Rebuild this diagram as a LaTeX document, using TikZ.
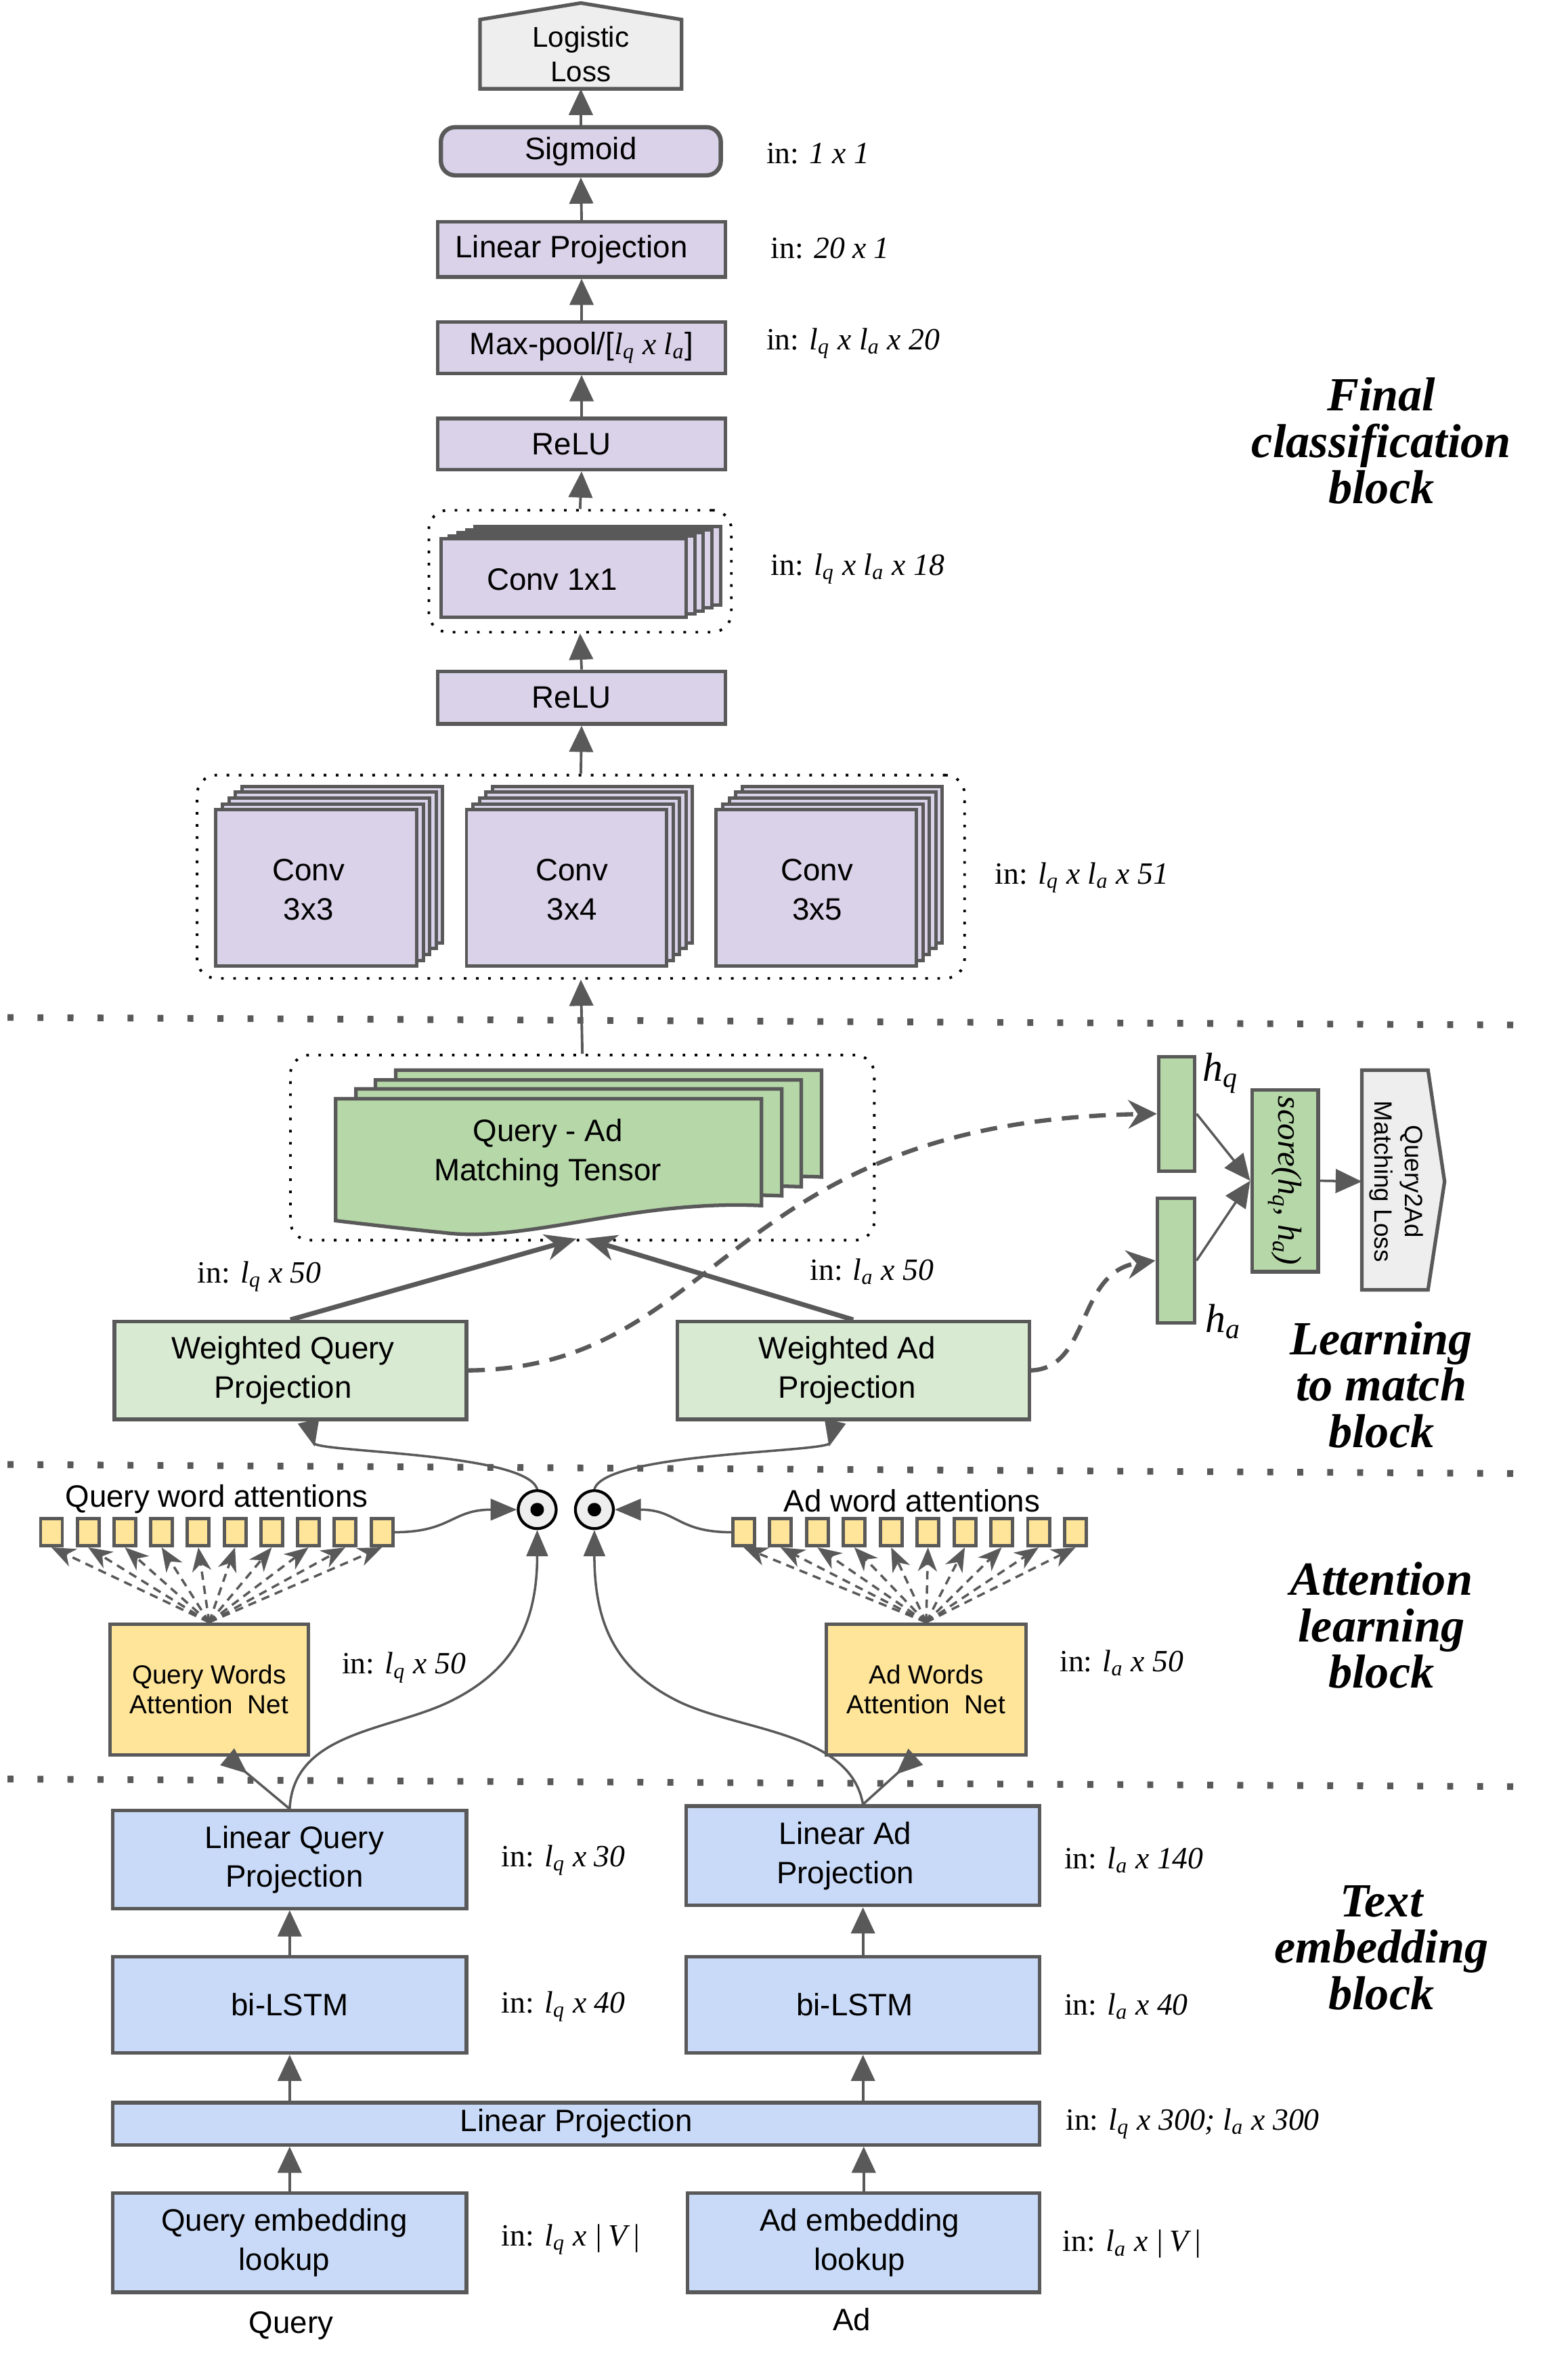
\documentclass[tikz,border=0pt]{standalone}
\usepackage{fontspec}
\setmainfont{Liberation Sans}
\newfontfamily\lblfont{Liberation Serif}
\usetikzlibrary{arrows.meta,fit,calc}
\definecolor{bordc}{HTML}{595959}
\definecolor{purp}{HTML}{D9D2E9}
\definecolor{grn}{HTML}{B6D7A8}
\definecolor{lgrn}{HTML}{D9EAD3}
\definecolor{blu}{HTML}{C9DAF8}
\definecolor{yel}{HTML}{FFE599}
\definecolor{lgray}{HTML}{EEEEEE}
\newcommand\myLq{l\textsubscript{q}}
\newcommand\myLa{l\textsubscript{a}}
\newcommand\mybox[6][]{\node[#3, fit={(#4) (#5)}] (#2) {};
  \node[txt,#1] (#2-t) at (#2.center) {#6};}
\newcommand\convstack[7]{%
  \foreach \k in {4,3,2,1}{\draw[layer, shift={(\k*#6,\k*#7)}] (#2,#3) rectangle (#4,#5);}
  \node[layer, fit={(#2,#3) (#4,#5)}] (#1) {};}
\begin{document}
\begin{tikzpicture}[x=0.022217cm, y=-0.022217cm,
  box/.style={draw=bordc, line width=1.5pt, inner sep=0pt},
  layer/.style={draw=bordc, fill=purp, line width=1.4pt, inner sep=0pt},
  txt/.style={inner sep=0pt, align=center, font=\fontsize{13}{16.4}\selectfont},
  hbox/.style={draw=bordc, fill=grn, line width=1.5pt, inner sep=0pt},
  sq/.style={draw=bordc, fill=yel, line width=1.4pt, inner sep=0pt, minimum width=0.32cm, minimum height=0.4cm},
  dotbox/.style={draw=black, line width=1.1pt, dash pattern=on 1.1pt off 4pt, rounded corners=8pt, inner sep=0pt},
  sep/.style={draw=bordc, line width=2.8pt, dash pattern=on 2.5pt off 10.1pt},
  arr/.style={draw=bordc, line width=1.1pt, -{Triangle[length=11pt,width=10pt]}},
  carr/.style={draw=bordc, line width=1pt, -{Triangle[length=11pt,width=9pt]}},
  rcarr/.style={draw=bordc, line width=1pt, -{Triangle[reversed,length=11pt,width=9pt]}},
  thk/.style={draw=bordc, line width=2pt, -{Stealth[length=13pt,width=11pt,inset=4pt]}},
  dsh/.style={draw=bordc, line width=1.8pt, dash pattern=on 7pt off 4.5pt, -{Stealth[length=12pt,width=12pt,inset=4pt]}},
  fan/.style={draw=bordc, line width=1pt, dash pattern=on 3.5pt off 2.5pt, -{Stealth[length=10pt,width=8pt,inset=3pt]}},
  odot/.style={circle, draw=black, fill=lgray, line width=1.2pt, minimum size=0.56cm, inner sep=0pt,
    path picture={\fill[black] (path picture bounding box.center) circle (0.1cm);}},
  lbl/.style={anchor=west, inner sep=0pt, font=\lblfont\fontsize{13}{15}\selectfont},
  ttl/.style={align=center, inner sep=0pt, font=\lblfont\bfseries\itshape\fontsize{20}{19.5}\selectfont}
]
\useasboundingbox (0,0) rectangle (1042,1568);

% separators
\draw[sep] (5,676) -- (1007,681);
\draw[sep] (5,973) -- (1007,979);
\draw[sep] (5,1182) -- (1007,1187);

% ---------- Final classification block ----------
\path[fill=lgray, draw=bordc, line width=1.5pt] (319,59) -- (319,13) -- (386,2) -- (453,13) -- (453,59) -- cycle;
\node[txt, font=\fontsize{12}{14.5}\selectfont] (loss) at (386,36) {Logistic\\Loss};
\coordinate (lossb) at (386,59);
\mybox{sig}{box, fill=purp, rounded corners=6pt, line width=1.8pt}{293,84.5}{479,116.5}{Sigmoid}
\mybox[xshift=-0.15cm]{lp1}{box, fill=purp}{291,147.5}{482,184}{Linear Projection}
\mybox{mp}{box, fill=purp}{291,214}{482,248}{Max-pool/[{\lblfont\itshape \myLq{} x \myLa}]}
\mybox[xshift=-0.15cm]{relu1}{box, fill=purp}{291,278}{482,312}{ReLU}
\node[dotbox, fit={(285,339) (486,420)}] (c11box) {};
\convstack{c11}{293}{358}{456}{410}{5.7}{-2}
\node[txt] (c11t) at (367,385) {Conv 1x1};
\mybox[xshift=-0.15cm]{relu2}{box, fill=purp}{291,446}{482,481}{ReLU}
\node[dotbox, fit={(131,515) (641,650)}] (convbox) {};
\convstack{c33}{143.5}{538}{277}{642}{4.3}{-3.9}
\convstack{c34}{310}{538}{443}{642}{4.3}{-3.9}
\convstack{c35}{476}{538}{609}{642}{4.3}{-3.9}
\node[txt] (c33t) at (205,591) {Conv\\3x3};
\node[txt] (c34t) at (380,591) {Conv\\3x4};
\node[txt] (c35t) at (543,591) {Conv\\3x5};

\draw[arr] (sig.north) -- (lossb);
\draw[arr] (lp1.north) -- (sig.south);
\draw[arr] (mp.north) -- (lp1.south);
\draw[arr] (relu1.north) -- (mp.south);
\draw[arr] (c11box.north) -- (relu1.south);
\draw[arr] (relu2.north) -- (c11box.south);
\draw[arr] (convbox.north) -- (relu2.south);

\node[lbl] (l1) at (509,102) {in: {\itshape 1 x 1}};
\node[lbl] (l2) at (512,165) {in: {\itshape 20 x 1}};
\node[lbl] (l3) at (509,228) {in: {\itshape \myLq{} x \myLa{} x 20}};
\node[lbl] (l4) at (512,378) {in: {\itshape \myLq{} x \myLa{} x 18}};
\node[lbl] (l5) at (661,583) {in: {\itshape \myLq{} x \myLa{} x 51}};
\node[ttl] (t1) at (918,293) {Final\\classification\\block};

% ---------- Learning to match block ----------
\node[dotbox, fit={(193,701) (581,824)}] (mtbox) {};
\foreach \dx/\dy in {40/-19, 26.5/-12.5, 13.5/-6.5, 0/0} {
  \draw[draw=bordc, fill=grn, line width=1.5pt, shift={(\dx,\dy)}] (223,730) -- (506,730) -- (506,801)
    .. controls (420,797) and (350,826) .. (295,819) .. controls (265,816) and (240,813) .. (223,811) -- cycle;
}
\node[txt] (mt) at (364,766) {Query - Ad\\Matching Tensor};
\draw[arr] (mtbox.north) -- (convbox.south);

\mybox[xshift=-0.11cm]{wqp}{box, fill=lgrn}{76,878}{310,943}{Weighted Query\\Projection}
\mybox[xshift=-0.09cm]{wap}{box, fill=lgrn}{450,878}{684,943}{Weighted Ad\\Projection}
\coordinate (mtL) at (383,823);
\coordinate (mtR) at (389,823);
\draw[thk] (wqp.north) -- (mtL);
\draw[thk] (wap.north) -- (mtR);
\node[lbl] (l6) at (131,848) {in: {\itshape \myLq{} x 50}};
\node[lbl] (l7) at (538,845) {in: {\itshape \myLa{} x 50}};

\mybox{hq}{hbox}{770,702}{794,778}{}
\mybox{ha}{hbox}{769,796}{794,879}{}
\mybox{score}{hbox}{832,724}{876,845}{}
\node[rotate=-90, inner sep=0pt, font=\lblfont\itshape\fontsize{14}{14}\selectfont] (scoret) at (score.center) {score(h\textsubscript{q}, h\textsubscript{a})};
\path[fill=lgray, draw=bordc, line width=1.5pt] (905,711) -- (949,711) -- (960,785) -- (949,857) -- (905,857) -- cycle;
\coordinate (q2aw) at (905,785);
\node[rotate=-90, align=center, inner sep=0pt, font=\fontsize{10.5}{12.6}\selectfont] (q2at) at (928,785) {Query2Ad\\Matching Loss};
\node[inner sep=0pt, font=\lblfont\itshape\fontsize{17}{17}\selectfont] (hql) at (811,713) {h\textsubscript{q}};
\node[inner sep=0pt, font=\lblfont\itshape\fontsize{17}{17}\selectfont] (hal) at (813,878) {h\textsubscript{a}};
\draw[arr, line width=1pt] (hq.east) -- (score.west);
\draw[arr, line width=1pt] (ha.east) -- (score.west);
\draw[arr, line width=1pt] (score.east) -- (q2aw);
\draw[dsh] (wqp.east) .. controls (480,909) and (480,745) .. (hq.west);
\draw[dsh] (wap.east) .. controls (725,909) and (715,845) .. (ha.west);
\node[ttl] (t2) at (918,920) {Learning\\to match\\block};

% ---------- Attention learning block ----------
\node[odot] (cl) at (357,1003) {};
\node[odot] (cr) at (395,1003) {};
\foreach \i in {0,...,9} {
  \node[sq] (q\i) at ({34.2+24.4*\i},1018) {};
  \node[sq] (a\i) at ({494.2+24.5*\i},1018) {};
}
\node[txt] (qwt) at (144,996) {Query word attentions};
\node[txt] (awt) at (606,997) {Ad word attentions};
\mybox[font=\fontsize{11}{12.5}\selectfont]{qan}{box, fill=yel}{73,1079}{205,1166}{Query Words\\Attention\ \ Net}
\mybox[font=\fontsize{11}{12.5}\selectfont]{aan}{box, fill=yel}{549,1079}{682,1166}{Ad Words\\Attention\ \ Net}
\foreach \i in {0,...,9} {
  \draw[fan] (qan.north) -- (q\i.south);
  \draw[fan] (aan.north) -- (a\i.south);
}
\draw[carr] (q9.east) .. controls (300,1018) and (300,1003) .. (cl.west);
\draw[carr] (a0.west) .. controls (450,1018) and (450,1003) .. (cr.east);
\draw[rcarr] (cl.north) .. controls (350,965) and (210,965) .. ($(wqp.south)+(12,0)$);
\draw[rcarr] (cr.north) .. controls (402,965) and (550,965) .. ($(wap.south)+(-12,0)$);
\node[lbl] (l8) at (227,1108) {in: {\itshape \myLq{} x 50}};
\node[lbl] (l9) at (704,1105) {in: {\itshape \myLa{} x 50}};
\node[ttl] (t3) at (918,1080) {Attention\\learning\\block};

% ---------- Text embedding block ----------
\mybox[xshift=0.07cm]{lqp}{box, fill=blu}{75,1203}{310,1268}{Linear Query\\Projection}
\mybox[xshift=-0.26cm]{lap}{box, fill=blu}{456,1200}{691,1266}{Linear Ad\\Projection}
\mybox{qbl}{box, fill=blu}{75,1300}{310,1364}{bi-LSTM}
\mybox[xshift=-0.12cm]{abl}{box, fill=blu}{456,1300}{691,1364}{bi-LSTM}
\mybox{lp2}{box, fill=blu}{75,1397}{691,1425}{Linear Projection}
\mybox[xshift=-0.08cm]{qel}{box, fill=blu}{75,1457}{310,1523}{Query embedding\\lookup}
\mybox[xshift=-0.06cm]{ael}{box, fill=blu}{457,1457}{691,1523}{Ad embedding\\lookup}
\node[txt] (qin) at (193.5,1545) {Query};
\node[txt] (ain) at (566,1541) {Ad};

\draw[arr] (qel.north) -- (qel.north |- lp2.south);
\draw[arr] (ael.north) -- (ael.north |- lp2.south);
\draw[arr] (qbl.south |- lp2.north) -- (qbl.south);
\draw[arr] (abl.south |- lp2.north) -- (abl.south);
\draw[arr] (qbl.north) -- (lqp.south);
\draw[arr] (abl.north) -- (lap.south);

\draw[rcarr] (lqp.north) -- ($(qan.south)+(12,0)$);
\draw[rcarr] (lap.north) -- ($(aan.south)+(-7,0)$);
\draw[carr] (lqp.north) .. controls (195,1150) and (260,1150) .. (300,1130) .. controls (340,1110) and (357,1080) .. (cl.south);
\draw[carr] (lap.north) .. controls (565,1150) and (490,1150) .. (450,1130) .. controls (410,1110) and (395,1080) .. (cr.south);

\node[lbl] (l10) at (333,1236) {in: {\itshape \myLq{} x 30}};
\node[lbl] (l11) at (707,1236) {in: {\itshape \myLa{} x 140}};
\node[lbl] (l12) at (333,1333) {in: {\itshape \myLq{} x 40}};
\node[lbl] (l13) at (707,1333) {in: {\itshape \myLa{} x 40}};
\node[lbl] (l14) at (708,1411) {in: {\itshape \myLq{} x 300; \myLa{} x 300}};
\node[lbl] (l15) at (333,1488) {in: {\itshape \myLq{} x |\,V\,|}};
\node[lbl] (l16) at (706,1491) {in: {\itshape \myLa{} x |\,V\,|}};
\node[ttl] (t4) at (918,1294) {Text\\embedding\\block};
\end{tikzpicture}
\end{document}
